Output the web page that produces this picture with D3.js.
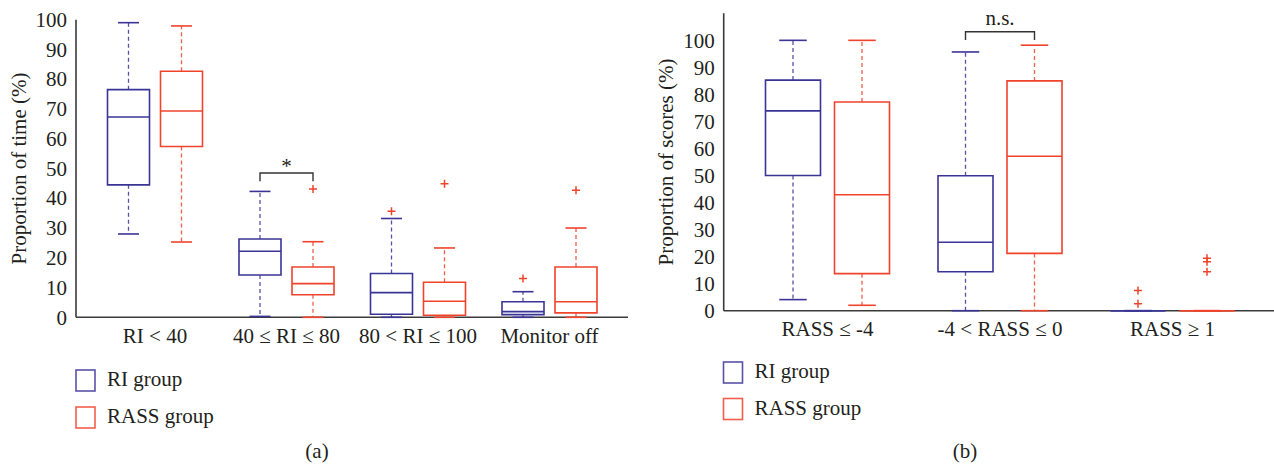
<!DOCTYPE html>
<html><head><meta charset="utf-8">
<script src="https://cdn.jsdelivr.net/npm/d3@7"></script>
<style>
html,body{margin:0;padding:0;background:#fff;}
svg{display:block;font-family:"Liberation Serif","DejaVu Serif",serif;}
</style></head>
<body>
<svg id="chart" width="1274" height="465"></svg>
<script>
// ---- Data (whisker low, Q1, median, Q3, whisker high) ----
const catsA = ["RI < 40", "40 ≤ RI ≤ 80", "80 < RI ≤ 100", "Monitor off"];
const riA   = [[28, 44.5, 67.3, 76.5, 99], [0.3, 14.2, 22.2, 26.3, 42.3], [0, 1, 8.3, 14.7, 33.2], [0, 0.9, 1.9, 5.2, 8.6]];
const rassA = [[25.3, 57.4, 69.3, 82.7, 97.9], [0, 7.6, 11.3, 16.9, 25.4], [0, 0.7, 5.4, 11.8, 23.3], [0, 1.5, 5.2, 16.9, 30]];
const riOutA   = [[], [], [35.6], [13]];
const rassOutA = [[], [43.1], [44.9], [42.7]];
const ticksA = [0, 10, 20, 30, 40, 50, 60, 70, 80, 90, 100];

const catsB = ["RASS ≤ -4", "-4 < RASS ≤ 0", "RASS ≥ 1"];
const riB   = [[4.1, 50, 73.9, 85.3, 100], [0, 14.4, 25.3, 49.9, 95.7], [0, 0, 0, 0, 0]];
const rassB = [[2, 13.7, 42.9, 77.2, 100], [0, 21.2, 57.1, 85, 98.2], [0, 0, 0, 0, 0]];
const riOutB   = [[], [], [7.5, 2.6]];
const rassOutB = [[], [], [19.4, 18.1, 14.4]];
const ticksB = [0, 10, 20, 30, 40, 50, 60, 70, 80, 90, 100];

const groupNames = ["RI group", "RASS group"];

// ---- Styles ----
const BLUE = "#3b3497", RED = "#f0432b", OUT = "#f0432b", AXIS = "#3a3a3a", TXT = "#231f20";
const FS = 21;

const svg = d3.select("#chart");

function panel(o) {
  const g = svg.append("g");
  const y = d3.scaleLinear().domain([0, o.ymax]).range([o.y0, o.y1]);
  const x = d3.scaleBand().domain(o.cats).range([o.bx0, o.bx1]);
  const cx = c => x(c) + x.bandwidth() / 2;

  // y axis
  const ya = g.append("g").attr("transform", `translate(${o.ax},0)`)
    .call(d3.axisLeft(y).tickValues(o.ticks).tickSize(0).tickPadding(9));
  ya.select(".domain").remove();
  ya.attr("font-family", null);
  ya.selectAll("text").attr("font-size", FS).attr("fill", TXT);
  // x axis
  const xa = g.append("g").attr("transform", `translate(0,${o.y0})`)
    .call(d3.axisBottom(x).tickSize(0).tickPadding(o.xpad));
  xa.select(".domain").remove();
  xa.attr("font-family", null);
  xa.selectAll("text").attr("font-size", FS).attr("fill", TXT);
  // axis lines
  g.append("line").attr("x1", o.ax).attr("x2", o.ax).attr("y1", y(0)).attr("y2", y(o.ymax))
    .attr("stroke", AXIS).attr("stroke-width", 1.6);
  g.append("line").attr("x1", o.ax).attr("x2", o.axEnd).attr("y1", y(0)).attr("y2", y(0))
    .attr("stroke", AXIS).attr("stroke-width", 1.6);

  // y title
  g.append("text").attr("transform", `translate(${o.titleX},${(o.y0 + o.y1) / 2}) rotate(-90)`)
    .attr("text-anchor", "middle").attr("dy", "0.35em").attr("font-size", FS).attr("fill", TXT).text(o.title);

  const series = [{vals: o.ri, outs: o.riOut, col: BLUE, off: -o.off}, {vals: o.rass, outs: o.rassOut, col: RED, off: o.off}];
  series.forEach(s => {
    o.cats.forEach((c, i) => {
      const v = s.vals[i];
      const xc = cx(c) + s.off;
      const hw = o.bw / 2, cw = o.bw / 4;
      const bg = g.append("g");
      // whiskers dashed
      bg.append("line").attr("x1", xc).attr("x2", xc).attr("y1", y(v[3])).attr("y2", y(v[4]))
        .attr("stroke", s.col).attr("stroke-width", 1.3).attr("stroke-dasharray", "4,3").attr("opacity", 0.85);
      bg.append("line").attr("x1", xc).attr("x2", xc).attr("y1", y(v[1])).attr("y2", y(v[0]))
        .attr("stroke", s.col).attr("stroke-width", 1.3).attr("stroke-dasharray", "4,3").attr("opacity", 0.85);
      // caps
      [v[0], v[4]].forEach(w => bg.append("line").attr("x1", xc - cw).attr("x2", xc + cw)
        .attr("y1", y(w)).attr("y2", y(w)).attr("stroke", s.col).attr("stroke-width", 1.6));
      // box
      bg.append("path").attr("d", `M${xc - hw},${y(v[3])}H${xc + hw}V${y(v[1])}H${xc - hw}Z`)
        .attr("fill", "none").attr("stroke", s.col).attr("stroke-width", 1.6);
      // median
      bg.append("line").attr("x1", xc - hw).attr("x2", xc + hw).attr("y1", y(v[2])).attr("y2", y(v[2]))
        .attr("stroke", s.col).attr("stroke-width", 1.6);
      // outliers (red '+')
      s.outs[i].forEach(p => {
        bg.append("path").attr("d", `M${xc - 4},${y(p)}H${xc + 4}M${xc},${y(p) - 4}V${y(p) + 4}`)
          .attr("stroke", OUT).attr("stroke-width", 1.5).attr("fill", "none");
      });
    });
  });

  // significance bracket
  const bc = o.bracket;
  const bx1 = cx(o.cats[bc.i]) - o.off, bx2 = cx(o.cats[bc.i]) + o.off;
  g.append("path").attr("d", `M${bx1},${y(bc.lo)}V${y(bc.hi)}H${bx2}V${y(bc.lo)}`)
    .attr("fill", "none").attr("stroke", "#333").attr("stroke-width", 1.4);
  g.append("text").attr("x", (bx1 + bx2) / 2).attr("y", y(bc.hi) + bc.dy).attr("text-anchor", "middle")
    .attr("font-size", FS).attr("fill", TXT).text(bc.label);

  // legend
  groupNames.forEach((n, k) => {
    const ly = o.legY[k];
    g.append("rect").attr("x", o.legX).attr("y", ly).attr("width", 19).attr("height", 21)
      .attr("fill", "none").attr("stroke", k === 0 ? BLUE : RED).attr("stroke-width", 1.6).attr("opacity", 0.85);
    g.append("text").attr("x", o.legX + 31).attr("y", ly + 16).attr("font-size", FS).attr("fill", TXT).text(n);
  });
  // caption
  g.append("text").attr("x", o.capX).attr("y", 458).attr("text-anchor", "middle").attr("font-size", FS)
    .attr("fill", TXT).text(o.caption);
}

panel({
  cats: catsA, ri: riA, rass: rassA, riOut: riOutA, rassOut: rassOutA, ticks: ticksA,
  ymax: 100, y0: 317.3, y1: 19.7, bx0: 89.25, bx1: 615.25, ax: 76, axEnd: 628,
  off: 26.5, bw: 42, xpad: 11, title: "Proportion of time (%)", titleX: 18.5,
  bracket: {i: 1, hi: 48.5, lo: 45.7, label: "*", dy: 0.5},
  legX: 76, legY: [370, 407], capX: 317, caption: "(a)"
});
panel({
  cats: catsB, ri: riB, rass: rassB, riOut: riOutB, rassOut: rassOutB, ticks: ticksB,
  ymax: 110, y0: 310.7, y1: 13.3, bx0: 741.25, bx1: 1258.75, ax: 723.7, axEnd: 1274,
  off: 34.5, bw: 55, xpad: 10, title: "Proportion of scores (%)", titleX: 666,
  bracket: {i: 1, hi: 103.2, lo: 100.1, label: "n.s.", dy: -6.5},
  legX: 723.5, legY: [362, 398.5], capX: 965, caption: "(b)"
});
</script>
</body></html>
